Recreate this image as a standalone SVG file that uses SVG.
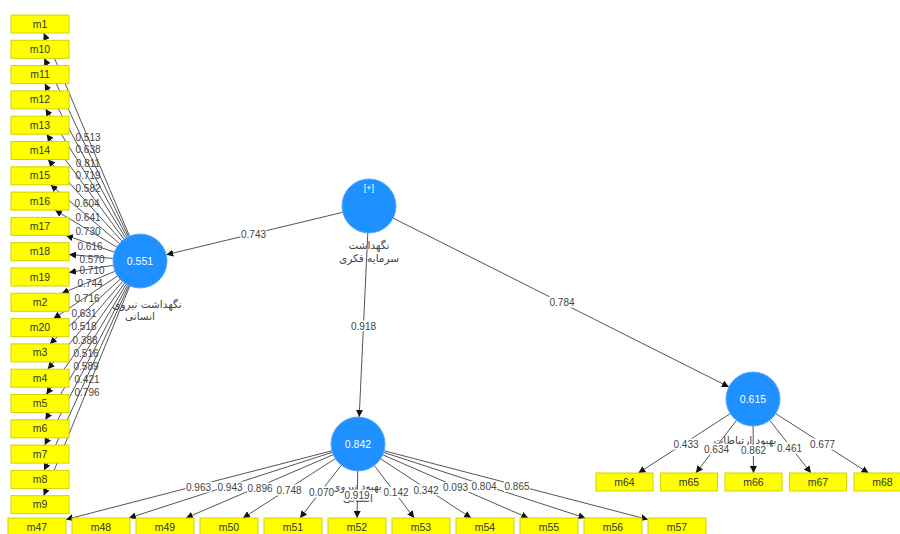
<svg xmlns="http://www.w3.org/2000/svg" width="900" height="534" viewBox="0 0 900 534">
<defs>
<marker id="arr" markerUnits="userSpaceOnUse" markerWidth="8" markerHeight="7" refX="7" refY="3.5" orient="auto">
<path d="M0,0 L7,3.5 L0,7 z" fill="#111"/>
</marker>
<style>
.box rect{fill:#ffff00;stroke:#d2d200;stroke-width:1}
.box text{font-family:"Liberation Sans","DejaVu Sans",sans-serif;font-size:10.5px;fill:#333;text-anchor:middle}
.lv circle{fill:#1e90ff;stroke:#55aaff;stroke-width:1}
.lv .val{font-family:"Liberation Sans","DejaVu Sans",sans-serif;font-size:10.5px;fill:#fff;text-anchor:middle}
.lv .name{font-family:"DejaVu Sans","Noto Sans",sans-serif;font-size:10.5px;fill:#444;text-anchor:middle}
.conn line{stroke:#555;stroke-width:1;marker-end:url(#arr)}
.lbl rect{fill:#fff}
.lbl text,.llbl text{font-family:"Liberation Sans","DejaVu Sans",sans-serif;font-size:10px;fill:#444;text-anchor:middle}
</style>
</defs>
<rect width="900" height="534" fill="#fff"/>
<g id="connectors" class="conn">
<line x1="129.5" y1="236.1" x2="43.8" y2="33"/>
<line x1="128.5" y1="236.6" x2="44.3" y2="58.3"/>
<line x1="127.2" y1="237.2" x2="44.8" y2="83.6"/>
<line x1="125.8" y1="238.1" x2="45.6" y2="108.9"/>
<line x1="124.0" y1="239.3" x2="46.6" y2="134.2"/>
<line x1="121.9" y1="241.0" x2="48.1" y2="159.5"/>
<line x1="119.5" y1="243.5" x2="50.6" y2="184.8"/>
<line x1="116.8" y1="247.1" x2="55.0" y2="210.1"/>
<line x1="114.5" y1="252.2" x2="66.0" y2="235.4"/>
<line x1="113.1" y1="258.5" x2="69" y2="254.4"/>
<line x1="113.3" y1="265.3" x2="69" y2="272.4"/>
<line x1="115.0" y1="271.3" x2="61.8" y2="293.3"/>
<line x1="117.5" y1="276.0" x2="53.5" y2="318.6"/>
<line x1="120.1" y1="279.3" x2="49.8" y2="343.9"/>
<line x1="122.5" y1="281.5" x2="47.7" y2="369.2"/>
<line x1="124.5" y1="283.1" x2="46.3" y2="394.5"/>
<line x1="126.2" y1="284.2" x2="45.4" y2="419.8"/>
<line x1="127.6" y1="285.0" x2="44.7" y2="445.1"/>
<line x1="128.8" y1="285.6" x2="44.1" y2="470.4"/>
<line x1="129.8" y1="286.0" x2="43.7" y2="495.7"/>
<line x1="331.9" y1="450.8" x2="66" y2="519.5"/>
<line x1="332.3" y1="452.3" x2="128.9" y2="518"/>
<line x1="333.2" y1="454.7" x2="185.9" y2="518"/>
<line x1="335.3" y1="458.6" x2="243.0" y2="518"/>
<line x1="341.3" y1="465.3" x2="300.0" y2="518"/>
<line x1="357.7" y1="471" x2="357.1" y2="518"/>
<line x1="374.3" y1="465.5" x2="414.2" y2="518"/>
<line x1="380.6" y1="458.8" x2="471.2" y2="518"/>
<line x1="382.8" y1="454.8" x2="528.3" y2="518"/>
<line x1="383.7" y1="452.4" x2="585.4" y2="518"/>
<line x1="384.1" y1="450.8" x2="648" y2="519.5"/>
<line x1="730.3" y1="413.6" x2="638.4" y2="473"/>
<line x1="736.5" y1="420.4" x2="695.9" y2="473"/>
<line x1="753.1" y1="426" x2="753.5" y2="473"/>
<line x1="769.7" y1="420.3" x2="811.0" y2="473"/>
<line x1="775.7" y1="413.6" x2="868.5" y2="473"/>
<line x1="342.7" y1="212.3" x2="166.3" y2="254.7"/>
<line x1="367.8" y1="233.0" x2="359.2" y2="417.0"/>
<line x1="393.1" y1="218.1" x2="728.9" y2="386.9"/>
</g>
<g id="left-labels" class="llbl">
<text x="88" y="140.5">0.513</text>
<text x="88" y="152.5">0.638</text>
<text x="88" y="166.5">0.811</text>
<text x="88" y="178.5">0.719</text>
<text x="88" y="191.5">0.582</text>
<text x="87" y="206.5">0.604</text>
<text x="88" y="220.5">0.641</text>
<text x="88" y="234.5">0.730</text>
<text x="90" y="249.5">0.616</text>
<text x="92" y="262.5">0.570</text>
<text x="92" y="273.5">0.710</text>
<text x="90" y="286.5">0.744</text>
<text x="87" y="301.5">0.716</text>
<text x="84" y="316.5">0.631</text>
<text x="84" y="329.5">0.518</text>
<text x="85" y="343.5">0.388</text>
<text x="86" y="356.5">0.516</text>
<text x="86" y="369.5">0.589</text>
<text x="87" y="382.5">0.421</text>
<text x="87" y="395.5">0.796</text>
</g>
<g id="lv-top" class="lv">
<circle cx="369" cy="206" r="27"/>
<text class="val" x="369" y="191" style="font-size:9px">[+]</text>
<text class="name" x="369" y="249">نگهداشت</text>
<text class="name" x="369" y="262">سرمایه فکری</text>
</g>
<g id="lv-left" class="lv">
<circle cx="140" cy="261" r="27"/>
<text class="val" x="140" y="264.5">0.551</text>
<text class="name" x="147" y="308">نگهداشت نیروی</text>
<text class="name" x="140" y="320">انسانی</text>
</g>
<g id="lv-bottom" class="lv">
<circle cx="358" cy="444" r="27"/>
<text class="val" x="358" y="447.5">0.842</text>
<text class="name" x="357" y="490">بهبود نیروی</text>
<text class="name" x="358" y="502">انسانی</text>
</g>
<g id="lv-right" class="lv">
<circle cx="753" cy="399" r="27"/>
<text class="val" x="753" y="402.5">0.615</text>
<text class="name" x="745" y="444">بهبود ارتباطات</text>
</g>
<g id="edge-labels" class="lbl">
<rect x="240.5" y="229" width="26" height="11"/><text x="253.5" y="238">0.743</text>
<rect x="350.5" y="320.5" width="26" height="11"/><text x="363.5" y="329.5">0.918</text>
<rect x="549" y="296.5" width="26" height="11"/><text x="562" y="305.5">0.784</text>
<rect x="185.5" y="481.5" width="26" height="11"/><text x="198.5" y="490.5">0.963</text>
<rect x="217" y="481.5" width="26" height="11"/><text x="230" y="490.5">0.943</text>
<rect x="247" y="482.5" width="26" height="11"/><text x="260" y="491.5">0.896</text>
<rect x="276" y="484.5" width="26" height="11"/><text x="289" y="493.5">0.748</text>
<rect x="308.5" y="486.5" width="26" height="11"/><text x="321.5" y="495.5">0.070</text>
<rect x="344" y="489.5" width="26" height="11"/><text x="357" y="498.5">0.919</text>
<rect x="383" y="487" width="26" height="11"/><text x="396" y="496">0.142</text>
<rect x="413" y="484.5" width="26" height="11"/><text x="426" y="493.5">0.342</text>
<rect x="442.5" y="482" width="26" height="11"/><text x="455.5" y="491">0.093</text>
<rect x="471" y="481" width="26" height="11"/><text x="484" y="490">0.804</text>
<rect x="504" y="481" width="26" height="11"/><text x="517" y="490">0.865</text>
<rect x="673" y="438.5" width="26" height="11"/><text x="686" y="447.5">0.433</text>
<rect x="703.5" y="443.5" width="26" height="11"/><text x="716.5" y="452.5">0.634</text>
<rect x="740.5" y="445" width="26" height="11"/><text x="753.5" y="454">0.862</text>
<rect x="776.5" y="442.5" width="26" height="11"/><text x="789.5" y="451.5">0.461</text>
<rect x="809.5" y="438.5" width="26" height="11"/><text x="822.5" y="447.5">0.677</text>
</g>
<g id="m1" class="box"><rect x="11" y="15" width="58" height="18"/><text x="40" y="27.5">m1</text></g>
<g id="m10" class="box"><rect x="11" y="40.3" width="58" height="18"/><text x="40" y="52.8">m10</text></g>
<g id="m11" class="box"><rect x="11" y="65.6" width="58" height="18"/><text x="40" y="78.1">m11</text></g>
<g id="m12" class="box"><rect x="11" y="90.9" width="58" height="18"/><text x="40" y="103.4">m12</text></g>
<g id="m13" class="box"><rect x="11" y="116.2" width="58" height="18"/><text x="40" y="128.7">m13</text></g>
<g id="m14" class="box"><rect x="11" y="141.5" width="58" height="18"/><text x="40" y="154">m14</text></g>
<g id="m15" class="box"><rect x="11" y="166.8" width="58" height="18"/><text x="40" y="179.3">m15</text></g>
<g id="m16" class="box"><rect x="11" y="192.1" width="58" height="18"/><text x="40" y="204.6">m16</text></g>
<g id="m17" class="box"><rect x="11" y="217.4" width="58" height="18"/><text x="40" y="229.9">m17</text></g>
<g id="m18" class="box"><rect x="11" y="242.7" width="58" height="18"/><text x="40" y="255.2">m18</text></g>
<g id="m19" class="box"><rect x="11" y="268" width="58" height="18"/><text x="40" y="280.5">m19</text></g>
<g id="m2" class="box"><rect x="11" y="293.3" width="58" height="18"/><text x="40" y="305.8">m2</text></g>
<g id="m20" class="box"><rect x="11" y="318.6" width="58" height="18"/><text x="40" y="331.1">m20</text></g>
<g id="m3" class="box"><rect x="11" y="343.9" width="58" height="18"/><text x="40" y="356.4">m3</text></g>
<g id="m4" class="box"><rect x="11" y="369.2" width="58" height="18"/><text x="40" y="381.7">m4</text></g>
<g id="m5" class="box"><rect x="11" y="394.5" width="58" height="18"/><text x="40" y="407">m5</text></g>
<g id="m6" class="box"><rect x="11" y="419.8" width="58" height="18"/><text x="40" y="432.3">m6</text></g>
<g id="m7" class="box"><rect x="11" y="445.1" width="58" height="18"/><text x="40" y="457.6">m7</text></g>
<g id="m8" class="box"><rect x="11" y="470.4" width="58" height="18"/><text x="40" y="482.9">m8</text></g>
<g id="m9" class="box"><rect x="11" y="495.7" width="58" height="18"/><text x="40" y="508.2">m9</text></g>
<g id="m47" class="box"><rect x="8" y="518" width="58" height="18"/><text x="37" y="530.5">m47</text></g>
<g id="m48" class="box"><rect x="72" y="518" width="58" height="18"/><text x="101" y="530.5">m48</text></g>
<g id="m49" class="box"><rect x="136" y="518" width="58" height="18"/><text x="165" y="530.5">m49</text></g>
<g id="m50" class="box"><rect x="200" y="518" width="58" height="18"/><text x="229" y="530.5">m50</text></g>
<g id="m51" class="box"><rect x="264" y="518" width="58" height="18"/><text x="293" y="530.5">m51</text></g>
<g id="m52" class="box"><rect x="328" y="518" width="58" height="18"/><text x="357" y="530.5">m52</text></g>
<g id="m53" class="box"><rect x="392" y="518" width="58" height="18"/><text x="421" y="530.5">m53</text></g>
<g id="m54" class="box"><rect x="456" y="518" width="58" height="18"/><text x="485" y="530.5">m54</text></g>
<g id="m55" class="box"><rect x="520" y="518" width="58" height="18"/><text x="549" y="530.5">m55</text></g>
<g id="m56" class="box"><rect x="584" y="518" width="58" height="18"/><text x="613" y="530.5">m56</text></g>
<g id="m57" class="box"><rect x="648" y="518" width="58" height="18"/><text x="677" y="530.5">m57</text></g>
<g id="m64" class="box"><rect x="596" y="473" width="57" height="18"/><text x="624.5" y="485.5">m64</text></g>
<g id="m65" class="box"><rect x="660.5" y="473" width="57" height="18"/><text x="689" y="485.5">m65</text></g>
<g id="m66" class="box"><rect x="725" y="473" width="57" height="18"/><text x="753.5" y="485.5">m66</text></g>
<g id="m67" class="box"><rect x="789.5" y="473" width="57" height="18"/><text x="818" y="485.5">m67</text></g>
<g id="m68" class="box"><rect x="854" y="473" width="57" height="18"/><text x="882.5" y="485.5">m68</text></g>
</svg>
